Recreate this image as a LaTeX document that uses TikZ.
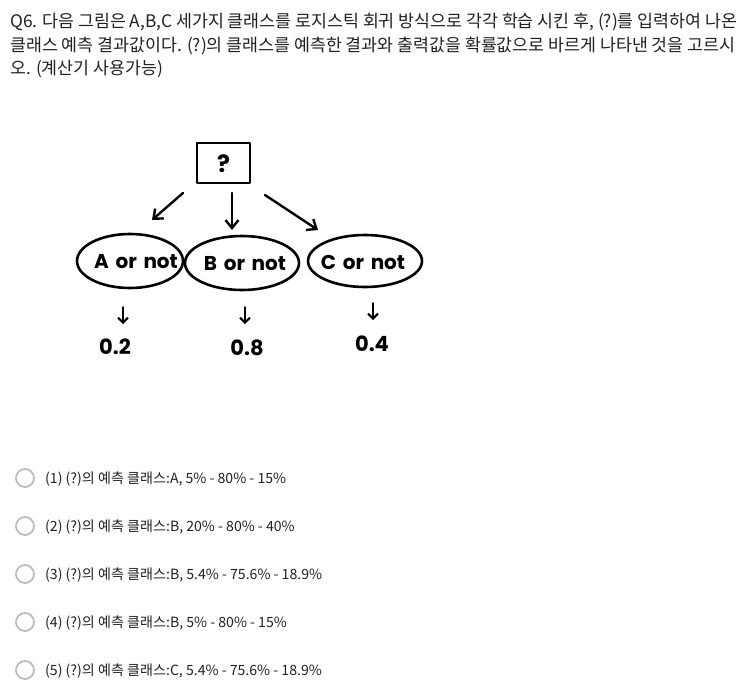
\documentclass[tikz,border=0pt]{standalone}
\usepackage{fontspec}
\setmainfont{Noto Sans CJK KR}
\newfontfamily\handfont{Poppins}
\usetikzlibrary{arrows.meta}
\definecolor{txt}{HTML}{202124}
\definecolor{radio}{HTML}{BDBDBD}
\tikzset{
  line/.style={line width=2.4pt, line cap=round, line join=round},
  arr/.style={line, -{Straight Barb[length=8pt,width=13pt,line width=2.4pt]}},
  sarr/.style={line width=2pt, line cap=round, -{Straight Barb[length=5pt,width=10pt,line width=2pt]}},
  hand/.style={font=\handfont\bfseries\fontsize{20}{22}\selectfont, inner sep=0pt},
  val/.style={font=\handfont\bfseries\fontsize{21}{22}\selectfont},
  qline/.style={anchor=base west, inner sep=0pt, text=txt, font=\fontsize{17.3}{20}\selectfont},
  opt/.style={anchor=base west, inner sep=0pt, text=txt, font=\fontsize{14.1}{16}\selectfont},
  radiobtn/.style={circle, draw=radio, line width=1.8pt, minimum size=18pt, inner sep=0pt},
}
\begin{document}
\begin{tikzpicture}[x=1pt,y=-1pt]
\useasboundingbox[fill=white] (0,0) rectangle (751,699);
% question text
\node[qline] (q1) at (10,27) {Q6. 다음 그림은 A,B,C 세가지 클래스를 로지스틱 회귀 방식으로 각각 학습 시킨 후, (?)를 입력하여 나온};
\node[qline] (q2) at (10,51) {클래스 예측 결과값이다. (?)의 클래스를 예측한 결과와 출력값을 확률값으로 바르게 나타낸 것을 고르시};
\node[qline] (q3) at (10,74) {오. (계산기 사용가능)};
% diagram
\draw[line] (197,143) rectangle (250,183);
\node[font=\handfont\bfseries\fontsize{24}{26}\selectfont] (qm) at (223.5,164) {?};
\coordinate (l1) at (183,193); \coordinate (l2) at (152,220);
\coordinate (m1) at (232,193); \coordinate (m2) at (232,230);
\coordinate (r1) at (265,195); \coordinate (r2) at (318,230);
\draw[arr] (l1) -- (l2);
\draw[arr] (m1) -- (m2);
\draw[arr] (r1) -- (r2);
\draw[line, line width=2.6pt] (130,261) ellipse [x radius=53, y radius=27];
\draw[line, line width=2.6pt] (242,263) ellipse [x radius=57, y radius=27];
\draw[line, line width=2.6pt] (365,261) ellipse [x radius=57, y radius=26];
\node[hand] (A) at (136,262) {A\,\,or\,\,not};
\node[hand] (B) at (245,264) {B\,\,or\,\,not};
\node[hand] (C) at (363,262) {C\,\,or\,\,not};
\coordinate (a1) at (123,307); \coordinate (a2) at (123,324);
\coordinate (b1) at (245,307); \coordinate (b2) at (245,324);
\coordinate (c1) at (373,303); \coordinate (c2) at (373,320);
\draw[sarr] (a1) -- (a2);
\draw[sarr] (b1) -- (b2);
\draw[sarr] (c1) -- (c2);
\node[val] (va) at (115,347) {0.2};
\node[val] (vb) at (247,348) {0.8};
\node[val] (vc) at (372,344) {0.4};
% options
\foreach \i/\y/\t in {1/478/{(1) (?)의 예측 클래스:A, 5\% - 80\% - 15\%},
                      2/526/{(2) (?)의 예측 클래스:B, 20\% - 80\% - 40\%},
                      3/574/{(3) (?)의 예측 클래스:B, 5.4\% - 75.6\% - 18.9\%},
                      4/622/{(4) (?)의 예측 클래스:B, 5\% - 80\% - 15\%},
                      5/670/{(5) (?)의 예측 클래스:C, 5.4\% - 75.6\% - 18.9\%}}{
  \node[radiobtn] (r\i) at (25,\y) {};
  \node[opt] (o\i) at (45,\y+5) {\t};
}
\end{tikzpicture}
\end{document}
